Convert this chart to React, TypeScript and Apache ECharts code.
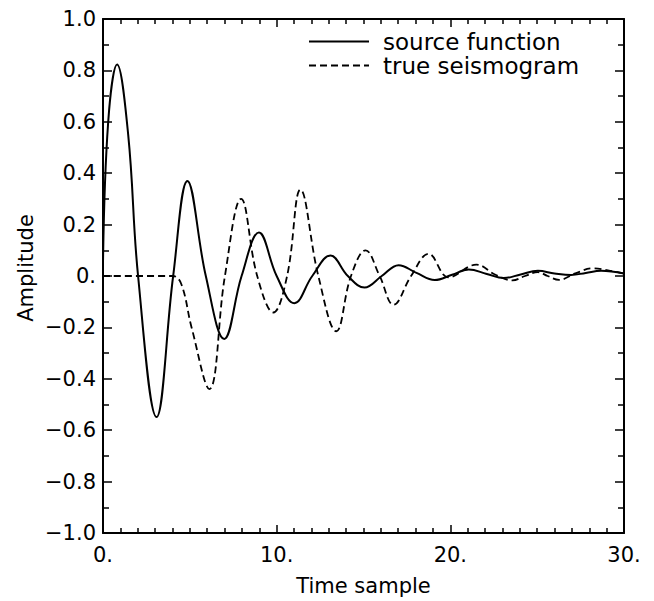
import React, { useEffect, useRef } from "react";
import * as echarts from "echarts";

// Source function (solid) — time samples and amplitudes
const sourceT = [0, 0.3, 0.81, 1.45, 2.02, 3.08, 4.04, 4.86, 5.92, 6.98, 7.98, 8.98, 10.0, 11.02, 12.05, 13.1, 14.1, 15.06, 16.05, 17.02, 18.05, 19.1, 20.1, 21.06, 22.1, 23.08, 24.05, 25.04, 26.0, 26.95, 27.8, 28.68, 30];
const sourceV = [0.05, 0.6, 0.823, 0.55, 0, -0.549, 0, 0.37, 0, -0.245, 0, 0.169, 0, -0.106, 0, 0.08, 0, -0.045, 0, 0.042, 0.012, -0.016, 0.005, 0.025, 0.008, -0.008, 0.006, 0.02, 0.01, 0.004, 0.012, 0.02, 0.01];

// True seismogram (dashed)
const seisT = [0, 4.0, 4.5, 5.1, 6.12, 7.02, 7.95, 8.88, 9.81, 10.6, 11.37, 12.4, 13.43, 14.28, 15.12, 15.93, 16.73, 17.74, 18.75, 19.9, 21.5, 22.6, 23.58, 24.3, 25.04, 25.6, 26.26, 27.2, 28.2, 29.2, 30];
const seisV = [0, 0, -0.03, -0.2, -0.44, 0, 0.3, 0, -0.142, 0, 0.336, 0, -0.215, 0, 0.1, 0, -0.112, 0, 0.086, -0.005, 0.044, 0.005, -0.017, 0, 0.015, 0, -0.015, 0.01, 0.03, 0.02, 0.01];

const seriesNames = ["source function", "true seismogram"];
const xTickLabels = ["0.", "10.", "20.", "30."];

const FONT = "DejaVu Sans";

export default function App() {
  const ref = useRef<HTMLDivElement>(null);
  useEffect(() => {
    if (!ref.current) return;
    document.body.style.margin = "0";
    const chart = echarts.init(ref.current, null, { renderer: "svg" });
    const src = sourceT.map((t, i) => [t, sourceV[i]]);
    const seis = seisT.map((t, i) => [t, seisV[i]]);
    const axisLine = { show: true, onZero: false, lineStyle: { color: "#000", width: 2 } };
    const xBase = {
      type: "value",
      min: 0,
      max: 30,
      interval: 10,
      axisLine,
      axisTick: { show: true, inside: true, length: 8, lineStyle: { color: "#000", width: 1.5 } },
      minorTick: { show: true, splitNumber: 10, length: 5, lineStyle: { color: "#000", width: 1.5 } },
      splitLine: { show: false },
      minorSplitLine: { show: false },
    };
    const yBase = {
      type: "value",
      min: -1,
      max: 1,
      interval: 0.2,
      axisLine,
      axisTick: { show: true, inside: true, length: 9, lineStyle: { color: "#000", width: 1.5 } },
      minorTick: { show: true, splitNumber: 2, length: 6, lineStyle: { color: "#000", width: 1.5 } },
      splitLine: { show: false },
      minorSplitLine: { show: false },
    };
    chart.setOption({
      animation: false,
      backgroundColor: "#fff",
      grid: { left: 103, right: 30, top: 19, bottom: 64, containLabel: false },
      legend: {
        show: true,
        orient: "vertical",
        left: 308,
        top: 30,
        padding: 0,
        itemWidth: 60,
        itemHeight: 2,
        itemGap: 1,
        data: seriesNames,
        itemStyle: { color: "rgba(0,0,0,0)", borderWidth: 0, opacity: 0 },
        textStyle: { fontFamily: FONT, fontSize: 23, color: "#000", padding: [0, 0, 0, 9] },
      },
      xAxis: [
        {
          ...xBase,
          position: "bottom",
          name: "Time sample",
          nameLocation: "middle",
          nameGap: 42,
          nameTextStyle: { fontFamily: FONT, fontSize: 21, color: "#000" },
          axisLabel: {
            show: true,
            margin: 11,
            fontFamily: FONT,
            fontSize: 21,
            color: "#000",
            formatter: (v: number) => xTickLabels[Math.round(v / 10)] ?? "",
          },
        },
        { ...xBase, position: "top", axisLabel: { show: false } },
      ],
      yAxis: [
        {
          ...yBase,
          position: "left",
          axisLabel: {
            show: true,
            margin: 7,
            fontFamily: FONT,
            fontSize: 21,
            color: "#000",
            formatter: (v: number) =>
              Math.abs(v) < 1e-9 ? "0." : (v < 0 ? "\u2212" : "") + Math.abs(v).toFixed(1),
          },
        },
        { ...yBase, position: "right", axisLabel: { show: false } },
      ],
      graphic: [
        {
          type: "text",
          x: 26,
          y: 268,
          rotation: Math.PI / 2,
          style: {
            text: "Amplitude",
            fontFamily: FONT,
            fontSize: 21,
            fill: "#000",
            align: "center",
            verticalAlign: "middle",
          },
        },
      ],
      series: [
        {
          name: seriesNames[0],
          type: "line",
          data: src,
          smooth: 0.4,
          showSymbol: false,
          symbol: "none",
          lineStyle: { color: "#000", width: 2, type: "solid" },
          itemStyle: { color: "#000" },
        },
        {
          name: seriesNames[1],
          type: "line",
          data: seis,
          smooth: 0.4,
          showSymbol: false,
          symbol: "none",
          lineStyle: { color: "#000", width: 1.8, type: [7, 4] },
          itemStyle: { color: "#000" },
        },
      ],
    });
    return () => chart.dispose();
  }, []);
  return <div ref={ref} style={{ width: 654, height: 601 }} />;
}
